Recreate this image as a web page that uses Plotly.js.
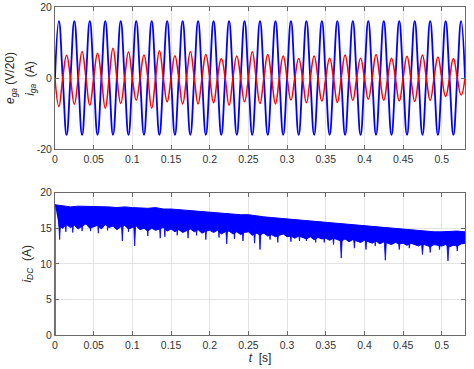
<!DOCTYPE html>
<html>
<head>
<meta charset="utf-8">
<script src="https://cdn.plot.ly/plotly-3.0.1.min.js"></script>
<style>
  html, body { margin: 0; padding: 0; background: #fff; }
  #chart { width: 474px; height: 369px; }
</style>
</head>
<body>
<div id="chart"></div>
<script>
// ---- Data ----
// Top panel: quarter-period samples (step 0.005 s) of the 50 Hz waveforms.
const topStep = 0.005;          // s between samples (zero crossings and extrema alternate)
const topEnd = 0.53;            // s
// Grid voltage e_ga (V/20): extrema at t = 0.005, 0.015, ...
const egaExtrema = [
  16,-16,16,-16,16,-16,16,-16,16,-16,16,-16,16,-16,16,-16,16,-16,16,-16,
  16,-16,16,-16,16,-16,16,-16,16,-16,16,-16,16,-16,16,-16,16,-16,16,-16,
  16,-16,16,-16,16,-16,16,-16,16,-16,16,-16,16
];
// Grid current i_ga (A): extrema at the same instants
const igaExtrema = [
  -8.0, 6.4,-7.4, 7.5,-7.7, 7.0,-8.5, 8.4,-7.2, 7.3,
  -6.2, 6.5,-8.5, 7.7,-6.7, 6.3,-7.3, 7.5,-7.3, 6.6,
  -7.0, 5.5,-7.7, 6.2,-6.7, 7.4,-7.2, 6.6,-7.3, 6.2,
  -6.2, 5.5,-7.0, 6.2,-6.5, 5.6,-6.9, 6.5,-6.3, 5.6,
  -6.0, 6.6,-6.3, 5.6,-6.5, 6.1,-6.6, 6.5,-6.3, 5.9,
  -5.2, 5.5,-4.8
];
const zeroCrossingValue = 0;

// Bottom panel: DC-link current i_DC (A); dense ripple drawn as an envelope band
const tStart = [0, 0];
const iStart = [0, 18.3];
const upperStep = 0.01;
const idcUpper = [
  18.3,18.1,18.0,18.1,18.1,18.0,18.1,18.0,17.9,18.0,
  17.9,17.8,17.8,17.9,17.7,17.7,17.6,17.6,17.4,17.4,
  17.3,17.2,17.1,17.0,16.9,16.9,16.7,16.6,16.5,16.4,
  16.3,16.2,16.1,16.0,15.9,15.8,15.7,15.6,15.6,15.5,
  15.4,15.3,15.2,15.1,15.0,14.9,14.8,14.7,14.6,14.5,
  14.5,14.6,14.6,14.5
];
const lowerStep = 0.005;
const idcLower = [
  15.3,15.0,15.5,15.1,15.4,14.9,15.3,15.6,15.0,15.2,
  15.4,14.9,15.5,15.1,15.3,14.8,15.2,15.4,14.9,15.1,
  15.3,14.8,15.0,14.6,15.0,14.7,14.9,15.1,14.6,14.9,
  14.5,14.8,14.4,14.7,14.9,14.5,14.8,14.3,14.6,14.7,
  14.4,14.7,14.2,14.5,14.6,14.2,14.5,14.1,14.4,14.5,
  14.0,14.3,14.1,14.3,13.9,14.1,13.8,14.0,14.2,13.8,
  13.9,13.6,13.9,13.7,13.5,13.8,13.4,13.7,13.5,13.6,
  13.3,13.6,13.4,13.2,13.5,13.1,13.4,13.2,13.0,13.3,
  13.1,12.9,13.2,12.8,13.1,12.9,12.7,13.0,12.8,12.9,
  12.6,12.9,12.7,12.5,12.8,12.6,12.4,12.7,12.6,12.5,
  12.7,12.4,12.6,12.5,12.8,12.9
];
// Narrow downward spikes of i_DC: time (s) and minimum (A)
const spikeT   = [0.006,0.014,0.023,0.035,0.046,0.056,0.068,0.087,0.095,0.103,0.12,0.136,0.142,0.158,0.172,0.183,0.195,0.212,0.222,0.232,0.243,0.258,0.265,0.278,0.288,0.305,0.316,0.325,0.337,0.348,0.36,0.37,0.387,0.402,0.414,0.427,0.445,0.458,0.475,0.485,0.497,0.508,0.52];
const spikeMin = [13.4, 14.5, 14.4, 14.6, 14.6, 14.3, 14.7, 13.2, 14.5, 12.5, 13.9, 13.6, 13.8, 14.0, 13.6, 14.0, 13.4, 13.7, 12.8, 13.5, 13.2, 12.9, 12.0, 13.4, 13.0, 13.1, 13.2, 13.2, 13.0, 13.0, 12.7, 10.8, 12.2, 12.0, 12.5, 10.5, 12.0, 12.2, 11.3, 11.6, 12.0, 10.4, 11.8];

const xTicks = [0,0.05,0.1,0.15,0.2,0.25,0.3,0.35,0.4,0.45,0.5];
const xTickText = ['0','0.05','0.1','0.15','0.2','0.25','0.3','0.35','0.4','0.45','0.5'];

// ---- Build series ----
function waveform(extrema) {
  const t = [], v = [];
  const n = Math.round(topEnd / topStep);
  for (let i = 0; i <= n; i++) {
    t.push(+(i * topStep).toFixed(4));
    v.push(i % 2 === 0 ? zeroCrossingValue : extrema[(i - 1) / 2]);
  }
  return {t, v};
}
const ega = waveform(egaExtrema);
const iga = waveform(igaExtrema);
const tUpper = idcUpper.map((_, k) => +(k * upperStep).toFixed(4));
const tLower = idcLower.map((_, k) => +((k + 1) * lowerStep).toFixed(4));
const spikeHalfWidth = 0.002;   // s
const spX = [], spY = [];
spikeT.forEach((t, k) => {
  const top = idcUpper[Math.min(idcUpper.length - 1, Math.round(t / upperStep))] - 0.8;
  spX.push(Math.max(0, t - spikeHalfWidth), t, t + spikeHalfWidth, null);
  spY.push(top, spikeMin[k], top, null);
});

const BLUE = '#0000ff', RED = '#ff0000';

const traces = [
  {x: ega.t, y: ega.v, xaxis: 'x', yaxis: 'y', type: 'scatter', mode: 'lines',
   line: {color: BLUE, width: 1.8, shape: 'spline', smoothing: 1.3}, hoverinfo: 'skip'},
  {x: iga.t, y: iga.v, xaxis: 'x', yaxis: 'y', type: 'scatter', mode: 'lines',
   line: {color: RED, width: 1.5, shape: 'spline', smoothing: 1.3}, hoverinfo: 'skip'},
  {x: tStart, y: iStart, xaxis: 'x2', yaxis: 'y2', type: 'scatter', mode: 'lines',
   line: {color: BLUE, width: 1.2}, hoverinfo: 'skip'},
  {x: tUpper, y: idcUpper, xaxis: 'x2', yaxis: 'y2', type: 'scatter', mode: 'lines',
   line: {color: BLUE, width: 1}, hoverinfo: 'skip'},
  {x: tLower, y: idcLower, xaxis: 'x2', yaxis: 'y2', type: 'scatter', mode: 'lines',
   fill: 'tonexty', fillcolor: BLUE, line: {color: BLUE, width: 1}, hoverinfo: 'skip'},
  {x: spX, y: spY, xaxis: 'x2', yaxis: 'y2', type: 'scatter', mode: 'lines',
   fill: 'toself', fillcolor: BLUE, line: {color: BLUE, width: 0.8}, hoverinfo: 'skip'}
];

const axisCommon = {
  showline: true, linecolor: '#6a6a6a', linewidth: 1, mirror: 'ticks',
  ticks: 'inside', ticklen: 4, tickcolor: '#6a6a6a', tickwidth: 1,
  showgrid: true, gridcolor: '#e3e3e3', gridwidth: 1, zeroline: false,
  tickfont: {family: 'Liberation Sans, Arial, sans-serif', size: 10.5, color: '#333333'}
};
const titleFont = {family: 'Liberation Sans, Arial, sans-serif', size: 12, color: '#262626'};

const layout = {
  width: 474, height: 369,
  margin: {l: 55, r: 9, t: 7, b: 34},
  paper_bgcolor: '#ffffff', plot_bgcolor: '#ffffff',
  showlegend: false,
  xaxis: Object.assign({}, axisCommon, {domain: [0, 1], anchor: 'y', range: [0, 0.53],
    tickvals: xTicks, ticktext: xTickText}),
  yaxis: Object.assign({}, axisCommon, {domain: [0.567, 1], anchor: 'x', range: [-20, 20],
    tickvals: [-20, 0, 20], ticktext: ['-20', '0', '20'],
    title: {text: '<i>e</i><sub><i>ga</i></sub> (V/20)', font: titleFont, standoff: 19}}),
  xaxis2: Object.assign({}, axisCommon, {domain: [0, 1], anchor: 'y2', range: [0, 0.53],
    tickvals: xTicks, ticktext: xTickText,
    title: {text: '<i>t</i>  [s]', font: titleFont, standoff: 4}}),
  yaxis2: Object.assign({}, axisCommon, {domain: [0, 0.434], anchor: 'x2', range: [0, 20],
    tickvals: [0, 5, 10, 15, 20], ticktext: ['0', '5', '10', '15', '20'],
    title: {text: '<i>i</i><sub><i>DC</i></sub>  (A)', font: titleFont, standoff: 6}}),
  annotations: [
    {text: '<i>i</i><sub><i>ga</i></sub>  (A)', textangle: -90, showarrow: false,
     xref: 'paper', yref: 'paper', x: -0.059, y: 0.7835, xanchor: 'center', yanchor: 'middle',
     font: titleFont}
  ]
};

Plotly.newPlot('chart', traces, layout, {displayModeBar: false, staticPlot: true});
</script>
</body>
</html>
